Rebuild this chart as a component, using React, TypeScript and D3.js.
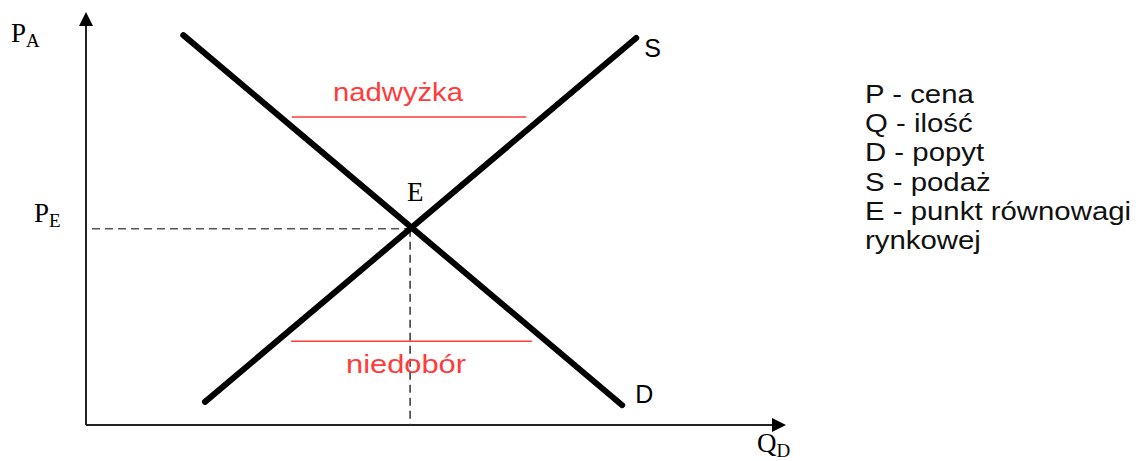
import { useRef, useEffect } from "react";
import * as d3 from "d3";

// values in chart units (quantity 0-100, price 0-100)
const demand = [
  { q: 13.9, p: 94.4 },
  { q: 76.6, p: 4.8 },
];
const supply = [
  { q: 17.0, p: 5.6 },
  { q: 78.6, p: 93.7 },
];
const equilibrium = { q: 46.3, p: 47.5 };
const surplus = { label: "nadwyżka", p: 74.6, q0: 29.4, q1: 62.9 };
const shortage = { label: "niedobór", p: 20.3, q0: 29.3, q1: 63.7 };
const legendLines = [
  "P - cena",
  "Q - ilość",
  "D - popyt",
  "S - podaż",
  "E - punkt równowagi",
  "rynkowej",
];

export default function App() {
  const ref = useRef<SVGSVGElement>(null);

  useEffect(() => {
    const svg = d3.select(ref.current);
    svg.selectAll("*").remove();

    const x = d3.scaleLinear().domain([0, 100]).range([86, 786]);
    const y = d3.scaleLinear().domain([0, 100]).range([425, 12]);
    const serif = "'Liberation Serif', 'DejaVu Serif', serif";
    const sans = "'Liberation Sans', Arial, sans-serif";

    // axes with arrow heads
    svg
      .append("line")
      .attr("x1", x(0))
      .attr("y1", y(0))
      .attr("x2", x(0))
      .attr("y2", y(97))
      .attr("stroke", "#222")
      .attr("stroke-width", 2);
    svg
      .append("path")
      .attr("d", `M${x(0)},${y(100)} L${x(0) - 7},${y(100) + 14} L${x(0) + 7},${y(100) + 14} Z`)
      .attr("fill", "#000");
    svg
      .append("line")
      .attr("x1", x(0))
      .attr("y1", y(0))
      .attr("x2", x(98))
      .attr("y2", y(0))
      .attr("stroke", "#222")
      .attr("stroke-width", 2);
    svg
      .append("path")
      .attr("d", `M${x(100)},${y(0)} L${x(100) - 14},${y(0) - 7} L${x(100) - 14},${y(0) + 7} Z`)
      .attr("fill", "#000");

    // dashed guides to equilibrium
    svg
      .append("line")
      .attr("x1", x(0) + 6)
      .attr("y1", y(equilibrium.p))
      .attr("x2", x(equilibrium.q))
      .attr("y2", y(equilibrium.p))
      .attr("stroke", "#555")
      .attr("stroke-width", 1.5)
      .attr("stroke-dasharray", "8,5");
    svg
      .append("line")
      .attr("x1", x(equilibrium.q))
      .attr("y1", y(equilibrium.p))
      .attr("x2", x(equilibrium.q))
      .attr("y2", y(0))
      .attr("stroke", "#333")
      .attr("stroke-width", 1.5)
      .attr("stroke-dasharray", "8,5");

    // demand and supply
    const line = d3
      .line<{ q: number; p: number }>()
      .x((d) => x(d.q))
      .y((d) => y(d.p));
    [demand, supply].forEach((data) => {
      svg
        .append("path")
        .attr("d", line(data))
        .attr("fill", "none")
        .attr("stroke", "#000")
        .attr("stroke-width", 6)
        .attr("stroke-linecap", "round");
    });

    // surplus / shortage
    [surplus, shortage].forEach((d, i) => {
      svg
        .append("line")
        .attr("x1", x(d.q0))
        .attr("x2", x(d.q1))
        .attr("y1", y(d.p))
        .attr("y2", y(d.p))
        .attr("stroke", "#ff3b3b")
        .attr("stroke-width", 1.5);
      svg
        .append("text")
        .attr("x", i === 0 ? 333 - 0 : 346)
        .attr("y", i === 0 ? y(d.p) - 16 : y(d.p) + 32)
        .attr("font-family", sans)
        .attr("font-size", 25)
        .attr("textLength", i === 0 ? 130 : 120)
        .attr("lengthAdjust", "spacingAndGlyphs")
        .attr("fill", "#ff3b3b")
        .text(d.label);
    });

    // curve labels
    svg
      .append("text")
      .attr("x", x(supply[1].q) + 8)
      .attr("y", y(supply[1].p) + 19)
      .attr("font-family", sans)
      .attr("font-size", 25)
      .text("S");
    svg
      .append("text")
      .attr("x", x(demand[1].q) + 13)
      .attr("y", y(demand[1].p) - 2)
      .attr("font-family", sans)
      .attr("font-size", 25)
      .text("D");
    svg
      .append("text")
      .attr("x", x(equilibrium.q) - 3)
      .attr("y", y(equilibrium.p) - 28)
      .attr("font-family", serif)
      .attr("font-size", 27)
      .text("E");

    // axis labels with subscripts
    const sub = (tx: number, ty: number, main: string, s: string) => {
      const t = svg
        .append("text")
        .attr("x", tx)
        .attr("y", ty)
        .attr("font-family", serif)
        .attr("font-size", 27);
      t.append("tspan").text(main);
      t.append("tspan").attr("font-size", 19).attr("dy", 5).text(s);
    };
    sub(11, 42, "P", "A");
    sub(34, 222, "P", "E");
    sub(757, 452, "Q", "D");

    // legend (the original is slightly stretched horizontally)
    svg
      .append("g")
      .attr("transform", "translate(865,0) scale(1.13,1)")
      .selectAll("text")
      .data(legendLines)
      .enter()
      .append("text")
      .attr("x", 0)
      .attr("y", (d, i) => 103 + i * 29.2)
      .attr("font-family", sans)
      .attr("font-size", 26)
      .attr("fill", "#111")
      .text((d) => d);
  }, []);

  return (
    <svg
      ref={ref}
      width={1143}
      height={461}
      style={{ position: "absolute", left: 0, top: 0, background: "#fff" }}
    />
  );
}
